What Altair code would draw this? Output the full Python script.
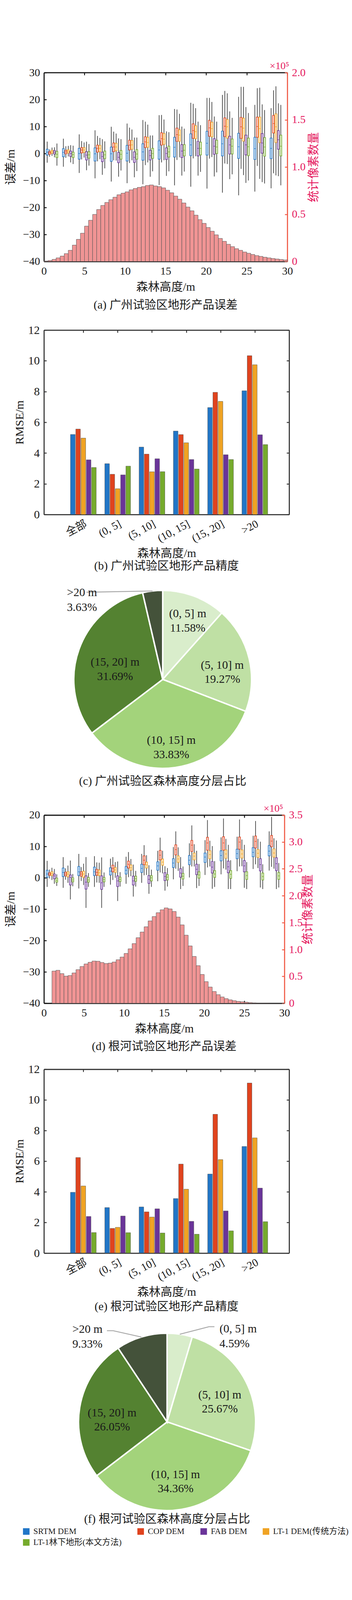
import math
import altair as alt
import pandas as pd

FONT = "'Liberation Serif', 'Noto Sans CJK SC', serif"
INK = "#1a1a1a"
FRAME_DARK = "#111111"
FRAME_GRAY = "#333333"
RED_LINE = "#F05A46"
RED_TEXT = "#E5195E"
HIST_FILL = "#F09494"
HIST_EDGE = "#555555"
WHISKER = "#3a3a3a"
LEADER = "#a8a8a8"

# ---------------- series ----------------
SERIES = ["SRTM DEM", "COP DEM", "FAB DEM", "LT-1 DEM(传统方法)", "LT-1林下地形(本文方法)"]
POS_ORDER = ["SRTM DEM", "COP DEM", "LT-1 DEM(传统方法)", "FAB DEM", "LT-1林下地形(本文方法)"]
COLORS = ["#2176C7", "#E0431E", "#6A3499", "#F0A323", "#76AB2C"]
TINTS = ["#C8DDF0", "#F7D0C7", "#DACDE6", "#FBE8C8", "#DDEACA"]

# ---------------- (a) Guangzhou error boxes: (low, q1, median, q3, high) ----------------
GZ_CENTERS = [1.0, 3.0, 4.95, 6.9, 8.9, 10.85, 12.8, 14.8, 16.7, 18.7, 20.7, 22.6, 24.6, 26.6, 28.6]
GZ_SRTM = [(-3.4, -0.6, 0.5, 1.6, 4.4), (-4.9, -1.2, 0.4, 1.8, 5.5), (-7.2, -2.1, 0.0, 1.9, 7.1),
           (-9.2, -2.8, -0.1, 2.1, 8.6), (-10.4, -2.9, -0.1, 2.4, 9.9), (-11.0, -2.8, 0.1, 3.0, 11.1),
           (-11.4, -2.5, 0.6, 3.6, 12.4), (-11.7, -2.1, 1.3, 4.7, 14.2), (-11.8, -1.3, 2.3, 6.0, 16.5),
           (-12.3, -0.8, 3.2, 7.3, 18.8), (-13.0, -0.6, 3.8, 8.2, 20.6), (-14.5, -0.9, 3.6, 8.3, 21.7),
           (-15.5, -1.8, 2.5, 7.5, 21.0), (-14.1, -2.2, 1.8, 6.0, 18.0), (-12.9, -1.9, 1.9, 5.7, 16.8)]
GZ_COP = [(-1.2, -0.3, 0.3, 0.7, 1.5), (-1.6, -0.1, 0.6, 1.2, 2.7), (-2.2, 0.2, 1.3, 2.2, 4.6),
          (-2.9, 0.5, 1.9, 3.1, 6.5), (-2.5, 0.7, 2.4, 3.9, 8.1), (-3.5, 1.3, 3.1, 4.9, 9.6),
          (-4.3, 2.2, 4.3, 6.2, 11.8), (-3.3, 3.1, 5.5, 7.7, 14.3), (-2.4, 4.5, 7.0, 9.4, 16.3),
          (-1.8, 5.6, 8.5, 11.0, 18.4), (-1.9, 6.4, 9.5, 12.3, 20.6), (-3.7, 6.3, 10.1, 13.2, 23.2),
          (-5.7, 5.6, 9.9, 13.4, 24.7), (-4.6, 6.0, 10.0, 13.5, 24.2), (-7.3, 7.6, 11.1, 14.1, 23.4)]
GZ_LT1 = [(-0.9, 0.1, 0.7, 1.2, 2.2), (-1.1, 0.2, 0.9, 1.4, 2.8), (-1.5, 0.4, 1.3, 2.2, 4.1),
          (-2.1, 0.7, 1.9, 3.0, 5.8), (-2.6, 1.0, 2.4, 3.8, 7.4), (-2.5, 1.6, 3.2, 4.8, 8.9),
          (-3.3, 2.3, 4.1, 6.0, 10.7), (-2.5, 3.4, 5.3, 7.4, 12.6), (-1.4, 4.5, 6.8, 8.8, 14.7),
          (-1.0, 5.5, 8.1, 10.3, 16.8), (-1.3, 6.2, 9.2, 11.6, 19.1), (-3.9, 5.7, 9.9, 12.6, 22.3),
          (-8.0, 4.6, 9.4, 13.1, 24.7), (-9.4, 4.0, 9.2, 13.5, 24.4), (-8.1, 4.1, 9.9, 14.7, 24.9)]
GZ_FAB = [(-1.4, -0.2, 0.5, 1.1, 2.3), (-3.3, -1.1, 0.0, 0.9, 3.1), (-6.2, -2.4, -0.6, 0.7, 4.4),
          (-7.9, -3.0, -1.1, 0.5, 5.3), (-8.6, -3.4, -1.4, 0.4, 5.6), (-8.8, -3.3, -1.4, 0.6, 5.9),
          (-8.6, -2.4, -0.8, 1.2, 6.7), (-8.3, -2.2, 0.0, 2.1, 8.2), (-8.2, -1.5, 0.9, 3.3, 10.0),
          (-8.2, -0.9, 1.9, 4.5, 11.8), (-8.5, -0.3, 2.7, 5.5, 13.7), (-9.5, -0.2, 3.2, 6.4, 15.6),
          (-10.9, -0.5, 3.2, 6.8, 17.2), (-10.6, 0.1, 3.9, 7.4, 18.2), (-8.4, 1.6, 5.1, 8.5, 18.6)]
GZ_LT1F = [(-4.5, -1.5, -0.3, 0.8, 3.7), (-3.9, -1.5, -0.4, 0.5, 2.9), (-4.5, -1.7, -0.5, 0.7, 3.5),
           (-5.5, -1.9, -0.5, 0.9, 4.5), (-6.3, -2.1, -0.3, 1.1, 5.3), (-6.5, -2.1, -0.2, 1.4, 5.9),
           (-6.6, -1.8, 0.0, 1.9, 6.7), (-6.6, -1.3, 0.6, 2.7, 7.9), (-6.7, -0.9, 1.2, 3.3, 9.2),
           (-6.8, -0.5, 1.9, 4.2, 10.5), (-7.0, 0.0, 2.4, 4.9, 11.8), (-7.7, -0.2, 2.7, 5.4, 13.2),
           (-10.0, -0.8, 2.5, 5.7, 15.0), (-11.1, -1.0, 2.4, 5.9, 16.1), (-11.8, -0.9, 2.7, 6.8, 18.0)]
# pixel counts (x1e5) per 0.5 m forest-height bin
GZ_COUNT_START = 0.0
GZ_COUNTS = [0.005, 0.010, 0.022, 0.038, 0.057, 0.083, 0.118, 0.173, 0.234, 0.299,
             0.374, 0.436, 0.498, 0.550, 0.593, 0.625, 0.654, 0.680, 0.706, 0.723,
             0.737, 0.758, 0.772, 0.784, 0.792, 0.804, 0.810, 0.799, 0.792, 0.779,
             0.754, 0.727, 0.692, 0.659, 0.619, 0.576, 0.536, 0.490, 0.443, 0.403,
             0.360, 0.320, 0.282, 0.244, 0.213, 0.182, 0.157, 0.135, 0.118, 0.100,
             0.087, 0.074, 0.062, 0.054, 0.045, 0.038, 0.031, 0.026, 0.021, 0.016]

# ---------------- (d) Genhe error boxes ----------------
GH_CENTERS = [1.0, 3.0, 4.95, 6.9, 8.9, 10.85, 12.8, 14.8, 16.75, 18.75, 20.7, 22.7, 24.7, 26.7, 28.7]
GH_SRTM = [(-2.9, 0.1, 1.2, 2.4, 5.4), (-3.2, 0.4, 1.7, 3.1, 6.6), (-3.4, 0.7, 1.9, 3.6, 7.6),
           (-2.9, 0.7, 1.9, 3.4, 6.9), (-2.2, 0.9, 2.1, 3.2, 6.1), (-1.9, 1.2, 2.4, 3.6, 6.7),
           (-1.6, 1.7, 3.0, 4.3, 7.6), (-1.1, 2.4, 3.8, 5.1, 8.6), (-0.5, 3.3, 4.7, 6.1, 9.8),
           (0.1, 4.2, 5.6, 7.1, 11.0), (0.9, 4.9, 6.6, 7.9, 12.0), (1.1, 5.4, 7.1, 8.6, 12.9),
           (2.1, 6.1, 7.7, 9.1, 13.1), (2.8, 6.7, 8.1, 9.6, 13.4), (2.3, 7.0, 8.5, 10.3, 14.8)]
GH_COP = [(-0.2, 0.8, 1.2, 1.6, 2.6), (-0.6, 0.6, 1.2, 1.8, 3.0), (-1.0, 0.5, 1.2, 1.9, 3.4),
          (-1.5, 0.8, 1.7, 2.7, 4.9), (-0.7, 1.9, 3.0, 4.0, 6.6), (0.2, 3.1, 4.3, 5.3, 8.2),
          (0.8, 4.2, 5.6, 7.0, 10.4), (1.7, 5.7, 7.2, 8.7, 12.8), (2.9, 7.3, 9.0, 10.5, 14.8),
          (3.6, 8.4, 10.4, 11.9, 16.7), (3.3, 8.8, 11.1, 12.9, 18.4), (3.0, 8.8, 11.1, 13.1, 18.9),
          (3.6, 9.1, 11.4, 13.0, 18.6), (4.3, 9.5, 11.6, 13.3, 18.1), (3.5, 9.9, 11.7, 13.5, 19.4)]
GH_LT1 = [(-0.7, 0.7, 1.3, 1.9, 3.2), (-1.6, 0.3, 1.2, 1.9, 3.9), (-2.3, 0.1, 1.2, 2.1, 4.5),
          (-1.6, 0.7, 1.6, 2.5, 4.8), (0.0, 1.7, 2.5, 3.3, 5.0), (0.5, 2.4, 3.2, 4.1, 6.0),
          (0.9, 3.1, 4.1, 5.0, 7.2), (1.4, 4.0, 5.0, 6.0, 8.6), (2.2, 4.9, 6.0, 7.0, 9.7),
          (3.6, 5.7, 6.9, 7.9, 10.7), (3.6, 6.1, 7.4, 8.6, 11.8), (2.6, 6.2, 7.6, 8.9, 12.4),
          (3.7, 6.3, 7.6, 8.9, 12.2), (3.1, 6.5, 7.8, 9.0, 12.4), (2.9, 6.6, 7.9, 9.2, 12.6)]
GH_FAB = [(-1.9, -0.3, 0.6, 1.2, 2.8), (-6.9, -2.3, 0.1, 0.9, 5.5), (-9.6, -3.6, -1.4, 0.6, 6.6),
          (-9.6, -3.7, -1.6, 0.6, 6.5), (-7.4, -2.8, -1.0, 0.6, 5.2), (-6.0, -2.3, -1.0, 0.5, 4.2),
          (-5.1, -1.8, -0.5, 0.7, 4.0), (-4.1, -0.9, 0.4, 1.6, 3.7), (-3.6, 0.2, 1.5, 2.9, 6.6),
          (-3.3, 1.0, 2.7, 4.3, 8.6), (-3.5, 1.5, 3.4, 5.2, 10.1), (-3.6, 1.6, 3.5, 5.3, 10.5),
          (-3.2, 1.9, 3.8, 5.5, 10.5), (-3.1, 2.2, 4.2, 6.1, 11.5), (-3.6, 2.3, 4.5, 6.4, 11.9)]
GH_LT1F = [(-2.6, -1.4, -0.8, -0.1, 1.1), (-2.7, -1.3, -0.7, 0.0, 1.2), (-2.9, -1.4, -0.7, 0.1, 1.5),
           (-2.9, -1.3, -0.6, 0.1, 1.7), (-2.8, -1.2, -0.5, 0.2, 1.8), (-2.8, -1.1, -0.3, 0.5, 2.2),
           (-2.9, -1.0, 0.0, 0.7, 2.6), (-2.8, -0.7, 0.2, 1.0, 3.1), (-2.6, -0.4, 0.5, 1.4, 3.6),
           (-2.6, -0.1, 0.9, 1.9, 4.4), (-2.9, 0.1, 1.2, 2.3, 5.3), (-3.6, -0.2, 1.1, 2.3, 5.6),
           (-3.6, -0.5, 0.7, 1.9, 5.0), (-3.6, -0.7, 0.4, 1.5, 4.3), (-3.1, -0.5, 0.6, 1.7, 4.7)]
GH_COUNT_START = 1.0
GH_COUNTS = [0.598, 0.613, 0.551, 0.504, 0.516, 0.563, 0.625, 0.684, 0.730, 0.762,
             0.785, 0.781, 0.758, 0.738, 0.746, 0.766, 0.809, 0.859, 0.926, 1.012,
             1.109, 1.219, 1.324, 1.422, 1.531, 1.613, 1.684, 1.738, 1.773, 1.754,
             1.707, 1.602, 1.457, 1.266, 1.066, 0.871, 0.699, 0.535, 0.402, 0.301,
             0.219, 0.160, 0.117, 0.086, 0.063, 0.047, 0.035, 0.027, 0.020, 0.012,
             0.008, 0.005, 0.004, 0.003, 0.002, 0.002, 0.001, 0.001]

# ---------------- (b)/(e) RMSE ----------------
HEIGHT_CLASSES = ["全部", "(0, 5]", "(5, 10]", "(10, 15]", "(15, 20]", ">20"]
GZ_RMSE = {
    "SRTM DEM": [5.21, 3.31, 4.39, 5.43, 6.96, 8.05],
    "COP DEM": [5.56, 2.62, 3.93, 5.20, 7.95, 10.33],
    "LT-1 DEM(传统方法)": [4.97, 1.68, 2.78, 4.67, 7.36, 9.74],
    "FAB DEM": [3.56, 2.58, 3.63, 3.58, 3.89, 5.19],
    "LT-1林下地形(本文方法)": [3.06, 3.15, 2.79, 2.96, 3.58, 4.55],
}
GH_RMSE = {
    "SRTM DEM": [3.97, 2.97, 3.01, 3.56, 5.16, 6.96],
    "COP DEM": [6.24, 1.61, 2.69, 5.81, 9.06, 11.10],
    "LT-1 DEM(传统方法)": [4.38, 1.68, 2.35, 4.17, 6.10, 7.52],
    "FAB DEM": [2.39, 2.42, 2.89, 2.07, 2.75, 4.24],
    "LT-1林下地形(本文方法)": [1.34, 1.33, 1.31, 1.23, 1.45, 2.05],
}

# ---------------- (c)/(f) shares ----------------
PIE_CLASSES = ["(0, 5] m", "(5, 10] m", "(10, 15] m", "(15, 20] m", ">20 m"]
PIE_COLORS = ["#D9EDCB", "#BFE0A4", "#A3D37B", "#548231", "#44523A"]
GZ_SHARE = [11.58, 19.27, 33.83, 31.69, 3.63]
GH_SHARE = [4.59, 25.67, 34.36, 26.05, 9.33]

# ---------------- layout / style ----------------
BOX_STEP = 0.3
BOX_HALF = 0.12
BIN = 0.5
BAR_STEP = 0.154
BAR_HALF = 0.0675
COLOR_SCALE = alt.Scale(domain=SERIES, range=COLORS)
TINT_SCALE = alt.Scale(domain=SERIES, range=TINTS)


def caption_title(text, offset, extra):
    kw = dict(text=text, orient="bottom", frame="group", anchor="middle", offset=offset,
              fontSize=32, font=FONT, fontWeight="normal", color=INK)
    if extra > 0:
        kw.update(subtitle=" ", subtitleFontSize=2, subtitlePadding=extra - 2)
    return alt.Title(**kw)


def frame_axis(orient, offset, values, color):
    return alt.Axis(orient=orient, offset=offset, values=values, labels=False, title=None,
                    grid=True, gridOpacity=0, domain=True, domainColor=color, domainWidth=3,
                    ticks=True, tickColor=color, tickWidth=2.5, tickSize=7)


def box_table(centers, tables):
    rows = []
    for k, s in enumerate(POS_ORDER):
        for c, (lo, q1, md, q3, hi) in zip(centers, tables[s]):
            p = c + (k - 2) * BOX_STEP
            rows.append(dict(series=s, pos=p, left=p - BOX_HALF, right=p + BOX_HALF,
                             low=lo, q1=q1, med=md, q3=q3, high=hi))
    return pd.DataFrame(rows)


def box_panel(centers, tables, counts, count_start, ydom, yvals, cdom, cvals, W, H,
              caption, cap_offset, extra, tenx_at, ytitle_pad, ctitle_pad):
    xs = alt.Scale(domain=[0, 30], nice=False, zero=False)
    ys = alt.Scale(domain=ydom, nice=False, zero=False)
    cs = alt.Scale(domain=cdom, nice=False, zero=True)
    bdf = box_table(centers, tables)
    hdf = pd.DataFrame({
        "x0": [count_start + i * BIN for i in range(len(counts))],
        "x1": [count_start + (i + 1) * BIN for i in range(len(counts))],
        "n": counts,
        "b": [0.0] * len(counts),
    })
    xvals = [5, 10, 15, 20, 25, 30]

    hist = alt.Chart(hdf).mark_bar(fill=HIST_FILL, stroke=HIST_EDGE, strokeWidth=1).encode(
        x=alt.X("x0:Q", scale=xs, axis=alt.Axis(
            orient="bottom", values=list(range(0, 31, 5)), domain=False, ticks=False,
            grid=True, gridOpacity=0,
            labelFontSize=30, labelPadding=12, labelFlush=False, labelOverlap=False,
            title="森林高度/m", titleFontSize=32, titlePadding=12)),
        x2="x1:Q",
        y=alt.Y("n:Q", scale=cs, axis=alt.Axis(
            orient="right", values=cvals, grid=True, gridOpacity=0,
            labelExpr="datum.value == 0 ? '0' : format(datum.value, '.1f')",
            domain=False, ticks=False, labelColor=RED_TEXT, labelFontSize=30, labelPadding=12,
            labelFlush=False, labelOverlap=False, title="统计像素数量", titleColor=RED_TEXT,
            titleFontSize=32, titleAngle=270, titlePadding=ctitle_pad)),
        y2="b:Q",
    )
    cdf = pd.DataFrame({"v": cvals, "z": [0.0] * len(cvals)})
    f_right = alt.Chart(cdf).mark_point(opacity=0).encode(
        y=alt.Y("v:Q", scale=cs, axis=frame_axis("left", -W, cvals, RED_LINE)),
        x=alt.X("z:Q", scale=xs, axis=None))
    count_group = alt.layer(hist, f_right).resolve_axis(y="independent", x="independent")

    whisk = alt.Chart(bdf).mark_rule(color=WHISKER, strokeWidth=1.8).encode(
        x=alt.X("pos:Q", scale=xs, axis=None),
        y=alt.Y("low:Q", scale=ys, axis=alt.Axis(
            orient="left", values=yvals, domain=False, ticks=False, labelFontSize=30,
            grid=True, gridOpacity=0,
            labelPadding=11, labelFlush=False, labelOverlap=False, title="误差/m",
            titleFontSize=32, titlePadding=ytitle_pad)),
        y2="high:Q",
    )
    bfill = alt.Chart(bdf).mark_bar().encode(
        x=alt.X("left:Q", scale=xs, axis=None), x2="right:Q",
        y=alt.Y("q1:Q", scale=ys, axis=None), y2="q3:Q",
        fill=alt.Fill("series:N", scale=TINT_SCALE, legend=None),
    )
    bline = alt.Chart(bdf).mark_bar(filled=False, strokeWidth=1.6).encode(
        x=alt.X("left:Q", scale=xs, axis=None), x2="right:Q",
        y=alt.Y("q1:Q", scale=ys, axis=None), y2="q3:Q",
        color=alt.Color("series:N", scale=COLOR_SCALE, legend=None),
    )
    med = alt.Chart(bdf).mark_rule(strokeWidth=1.3).encode(
        x=alt.X("left:Q", scale=xs, axis=None), x2="right:Q",
        y=alt.Y("med:Q", scale=ys, axis=None),
        color=alt.Color("series:N", scale=COLOR_SCALE, legend=None),
    )
    ydf = pd.DataFrame({"v": yvals, "z": [0.0] * len(yvals)})
    xdf = pd.DataFrame({"v": xvals, "z": [ydom[0]] * len(xvals)})
    f_left = alt.Chart(ydf).mark_point(opacity=0).encode(
        y=alt.Y("v:Q", scale=ys, axis=frame_axis("right", -W, yvals, FRAME_DARK)),
        x=alt.X("z:Q", scale=xs, axis=None))
    f_top = alt.Chart(xdf).mark_point(opacity=0).encode(
        x=alt.X("v:Q", scale=xs, axis=frame_axis("bottom", -H, xvals, FRAME_DARK)),
        y=alt.Y("z:Q", scale=ys, axis=None))
    f_bot = alt.Chart(xdf).mark_point(opacity=0).encode(
        x=alt.X("v:Q", scale=xs, axis=frame_axis("top", -H, xvals, FRAME_DARK)),
        y=alt.Y("z:Q", scale=ys, axis=None))
    tdf = pd.DataFrame({"v": [tenx_at], "z": [ydom[0]]})
    tenx = alt.Chart(tdf).mark_point(opacity=0).encode(
        x=alt.X("v:Q", scale=xs, axis=alt.Axis(
            orient="top", values=[tenx_at], labelExpr="'×10⁵'", domain=False, ticks=False,
            grid=True, gridOpacity=0,
            labelColor=RED_TEXT, labelFontSize=28, labelPadding=4, title=None,
            labelFlush=False, labelOverlap=False)),
        y=alt.Y("z:Q", scale=ys, axis=None))
    err_group = alt.layer(whisk, bfill, bline, med, f_left, f_top, f_bot, tenx).resolve_axis(
        y="independent", x="independent")
    return alt.layer(count_group, err_group).resolve_scale(y="independent").resolve_axis(
        x="independent", y="independent").properties(
        width=W, height=H, title=caption_title(caption, cap_offset, extra))


def bar_panel(table, W, H, caption, cap_offset, extra):
    rows = []
    for k, s in enumerate(POS_ORDER):
        for i, v in enumerate(table[s]):
            c = (i + 1) + (k - 2) * BAR_STEP
            rows.append(dict(series=s, left=c - BAR_HALF, right=c + BAR_HALF, v=v, b=0.0))
    df = pd.DataFrame(rows)
    cats = list(range(1, len(HEIGHT_CLASSES) + 1))
    names = "[" + ",".join("'" + c + "'" for c in HEIGHT_CLASSES) + "]"
    xq = alt.Scale(domain=[-0.15, 7.0], nice=False, zero=False)
    yvals = list(range(0, 13, 2))
    yb = alt.Scale(domain=[0, 12], nice=False, zero=True)
    bars = alt.Chart(df).mark_bar(stroke="#4d4d4d", strokeWidth=0.8).encode(
        x=alt.X("left:Q", scale=xq, axis=alt.Axis(
            orient="bottom", values=cats, labelExpr=names + "[datum.value - 1]",
            grid=True, gridOpacity=0,
            labelAngle=332, labelAlign="right", labelBaseline="top", domain=False, ticks=False,
            labelFontSize=30, labelPadding=10, labelFlush=False, labelOverlap=False,
            title="森林高度/m", titleFontSize=32, titlePadding=10)),
        x2="right:Q",
        y=alt.Y("v:Q", scale=yb, axis=alt.Axis(
            orient="left", values=yvals, domain=False, ticks=False, grid=True, gridOpacity=0,
            labelFontSize=32, labelPadding=12, labelFlush=False, labelOverlap=False,
            title="RMSE/m", titleFontSize=32, titlePadding=6)),
        y2="b:Q",
        color=alt.Color("series:N", scale=COLOR_SCALE, legend=None),
    )
    ydf = pd.DataFrame({"v": yvals, "z": [0.0] * len(yvals)})
    cdf = pd.DataFrame({"v": cats, "z": [0.0] * len(cats)})
    f_left = alt.Chart(ydf).mark_point(opacity=0).encode(
        y=alt.Y("v:Q", scale=yb, axis=frame_axis("right", -W, yvals, FRAME_GRAY)),
        x=alt.X("z:Q", scale=xq, axis=None))
    f_right = alt.Chart(ydf).mark_point(opacity=0).encode(
        y=alt.Y("v:Q", scale=yb, axis=frame_axis("left", -W, yvals, FRAME_GRAY)),
        x=alt.X("z:Q", scale=xq, axis=None))
    f_top = alt.Chart(cdf).mark_point(opacity=0).encode(
        x=alt.X("v:Q", scale=xq, axis=frame_axis("bottom", -H, cats, FRAME_GRAY)),
        y=alt.Y("z:Q", scale=yb, axis=None))
    f_bot = alt.Chart(cdf).mark_point(opacity=0).encode(
        x=alt.X("v:Q", scale=xq, axis=frame_axis("top", -H, cats, FRAME_GRAY)),
        y=alt.Y("z:Q", scale=yb, axis=None))
    return alt.layer(bars, f_left, f_right, f_top, f_bot).resolve_axis(
        x="independent", y="independent").properties(
        width=W, height=H, title=caption_title(caption, cap_offset, extra))


def pie_panel(shares, W, H, R, inside_frac, outside, caption, cap_offset, extra):
    xs = alt.Scale(domain=[-W / 2, W / 2], nice=False, zero=False)
    ys = alt.Scale(domain=[-H / 2, H / 2], nice=False, zero=False)
    rows, inside, outs, lead = [], [], [], []
    cum = 0.0
    for i, (cls, sh, col) in enumerate(zip(PIE_CLASSES, shares, PIE_COLORS)):
        mid = (cum + sh / 2) / 100 * 2 * math.pi
        cum += sh
        txt = f"{cls}\n{sh:.2f}%"
        rows.append(dict(idx=i, cls=cls, share=sh, fill=col))
        if i in outside:
            spec = outside[i]
            pts = [(R * math.sin(mid), R * math.cos(mid))] + spec["points"]
            for k, (px, py) in enumerate(pts):
                lead.append(dict(cls=cls, k=k, lx=px, ly=py))
            outs.append(dict(cls=cls, text=txt, lx=spec["text"][0], ly=spec["text"][1]))
        else:
            f = inside_frac[i]
            inside.append(dict(cls=cls, text=txt, lx=f * R * math.sin(mid), ly=f * R * math.cos(mid)))
    arc = alt.Chart(pd.DataFrame(rows)).mark_arc(radius=R, stroke="white", strokeWidth=4).encode(
        theta=alt.Theta("share:Q", stack=True),
        fill=alt.Fill("fill:N", scale=None),
        order=alt.Order("idx:Q"),
    )
    tin = alt.Chart(pd.DataFrame(inside)).mark_text(
        font=FONT, fontSize=32, color=INK, lineBreak="\n", lineHeight=39,
        align="center", baseline="middle").encode(
        x=alt.X("lx:Q", scale=xs, axis=None), y=alt.Y("ly:Q", scale=ys, axis=None), text="text:N")
    layers = [arc, tin]
    if lead:
        layers.insert(1, alt.Chart(pd.DataFrame(lead)).mark_line(color=LEADER, strokeWidth=2.5).encode(
            x=alt.X("lx:Q", scale=xs, axis=None), y=alt.Y("ly:Q", scale=ys, axis=None),
            detail="cls:N", order="k:Q"))
        layers.append(alt.Chart(pd.DataFrame(outs)).mark_text(
            font=FONT, fontSize=32, color=INK, lineBreak="\n", lineHeight=40,
            align="left", baseline="middle").encode(
            x=alt.X("lx:Q", scale=xs, axis=None), y=alt.Y("ly:Q", scale=ys, axis=None),
            text="text:N"))
    return alt.layer(*layers).properties(width=W, height=H,
                                         title=caption_title(caption, cap_offset, extra))


def legend_panel(W, legend):
    ldf = pd.DataFrame({"series": SERIES, "lx": [0.0] * len(SERIES), "ly": [0.0] * len(SERIES)})
    return alt.Chart(ldf).mark_square(opacity=0, size=10).encode(
        x=alt.X("lx:Q", scale=alt.Scale(domain=[0, 1]), axis=None),
        y=alt.Y("ly:Q", scale=alt.Scale(domain=[0, 1]), axis=None),
        color=alt.Color("series:N", scale=COLOR_SCALE, legend=legend),
    ).properties(width=W, height=1)


GZ_TABLE = {"SRTM DEM": GZ_SRTM, "COP DEM": GZ_COP, "LT-1 DEM(传统方法)": GZ_LT1,
            "FAB DEM": GZ_FAB, "LT-1林下地形(本文方法)": GZ_LT1F}
GH_TABLE = {"SRTM DEM": GH_SRTM, "COP DEM": GH_COP, "LT-1 DEM(传统方法)": GH_LT1,
            "FAB DEM": GH_FAB, "LT-1林下地形(本文方法)": GH_LT1F}

LEGEND = alt.Legend(orient="none", legendX=-60, legendY=0, direction="horizontal", columns=4,
                    gridAlign="none", title=None, symbolType="square", symbolSize=324,
                    symbolStrokeWidth=0, symbolOpacity=1, labelFont=FONT, labelFontSize=23,
                    labelLimit=500, labelColor=INK, columnPadding=40, rowPadding=6,
                    labelOffset=8)

pa = box_panel(GZ_CENTERS, GZ_TABLE, GZ_COUNTS, GZ_COUNT_START, [-40, 30], list(range(-40, 31, 10)),
               [0, 2.0], [0, 0.5, 1.0, 1.5, 2.0], 668, 518, "(a) 广州试验区地形产品误差", 19, 30, 29.0,
               17, 39)
pb = bar_panel(GZ_RMSE, 673, 506, "(b) 广州试验区地形产品精度", 4, 32)
pc = pie_panel(GZ_SHARE, 652, 510, 244, {0: 0.79, 1: 0.69, 2: 0.69, 3: 0.57},
               {4: {"points": [(-209, 239)], "text": (-263, 238)}},
               "(c) 广州试验区森林高度分层占比", 9, 38)
pd_ = box_panel(GH_CENTERS, GH_TABLE, GH_COUNTS, GH_COUNT_START, [-40, 20], list(range(-40, 21, 10)),
                [0, 3.5], [0, 0.5, 1.0, 1.5, 2.0, 2.5, 3.0, 3.5], 660, 516,
                "(d) 根河试验区地形产品误差", 18, 24, 28.6, 17, 31)
pe = bar_panel(GH_RMSE, 673, 504, "(e) 根河试验区地形产品精度", 9, 21)
pf = pie_panel(GH_SHARE, 676, 486, 243, {1: 0.67, 2: 0.60, 3: 0.63},
               {0: {"points": [(115, 261), (130, 261)], "text": (144, 255)},
                4: {"points": [(-148, 250), (-165, 250)], "text": (-260, 254)}},
               "(f) 根河试验区森林高度分层占比", 0, 0)
pl = legend_panel(676, LEGEND)

chart = alt.vconcat(pa, pb, pc, pd_, pe, pf, pl, spacing=6).resolve_legend(
    color="independent"
).properties(
    padding={"left": 4, "top": 13, "right": 0, "bottom": 0}
).configure_view(stroke=None).configure_axis(
    labelFont=FONT, titleFont=FONT, labelColor=INK, titleColor=INK,
    labelFontWeight="normal", titleFontWeight="normal", grid=True, gridOpacity=0
).configure_title(font=FONT, fontWeight="normal", color=INK)

chart.save("out.html", embed_options={"renderer": "svg", "actions": False})
